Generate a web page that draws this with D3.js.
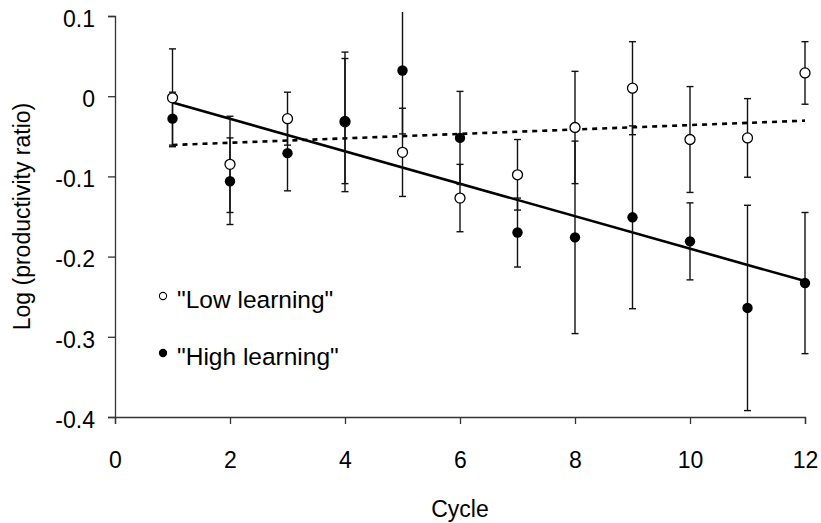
<!DOCTYPE html>
<html>
<head>
<meta charset="utf-8">
<script src="https://cdn.jsdelivr.net/npm/d3@7"></script>
<style>
  body { margin: 0; background: #fff; }
  svg { display: block; font-family: Arial, "Liberation Sans", sans-serif; }
</style>
</head>
<body>
<svg id="chart" width="821" height="523"></svg>
<script>
// values
const cycles = [1, 2, 3, 4, 5, 6, 7, 8, 9, 10, 11, 12];
const lowMean = [-0.002, -0.085, -0.028, -0.032, -0.070, -0.127, -0.098, -0.039, 0.010, -0.054, -0.052, 0.029];
const lowErr = [0.061, 0.060, 0.033, 0.087, 0.055, 0.042, 0.044, 0.070, 0.058, 0.066, 0.049, 0.039];
const highMean = [-0.028, -0.106, -0.071, -0.031, 0.032, -0.052, -0.170, -0.176, -0.151, -0.181, -0.264, -0.233];
const highErr = [0.033, 0.054, 0.047, 0.078, 0.079, 0.058, 0.043, 0.120, 0.114, 0.048, 0.128, 0.088];
const xTicks = [0, 2, 4, 6, 8, 10, 12];
const yTicks = [0.1, 0, -0.1, -0.2, -0.3, -0.4];
const legendLabels = ['"Low learning"', '"High learning"'];

const width = 821, height = 523;
const margin = { top: 16, right: 16, bottom: 106, left: 115 };

const svg = d3.select('#chart');

const x = d3.scaleLinear().domain([0, 12]).range([margin.left, width - margin.right]);
const y = d3.scaleLinear().domain([-0.4, 0.1]).range([height - margin.bottom, margin.top]);

const lowData = cycles.map((c, i) => ({ c, m: lowMean[i], e: lowErr[i] }));
const highData = cycles.map((c, i) => ({ c, m: highMean[i], e: highErr[i] }));

// least squares fit for the trend lines
function fit(data) {
    const mx = d3.mean(data, d => d.c), my = d3.mean(data, d => d.m);
    const slope = d3.sum(data, d => (d.c - mx) * (d.m - my)) / d3.sum(data, d => (d.c - mx) ** 2);
    const a = my - slope * mx;
    const [c0, c1] = d3.extent(data, d => d.c);
    return [[c0, a + slope * c0], [c1, a + slope * c1]];
}

svg.append('defs').append('clipPath').attr('id', 'plotClip')
    .append('rect')
    .attr('x', 0).attr('y', y(0.105))
    .attr('width', width).attr('height', height);

// axes
const fmt = v => v === 0 ? '0' : String(+v.toFixed(1));

const yAxis = svg.append('g')
    .attr('transform', `translate(${margin.left},0)`)
    .call(d3.axisLeft(y).tickValues(yTicks).tickFormat(fmt).tickSizeOuter(0).tickSize(7).tickPadding(13));
yAxis.selectAll('.tick text').attr('dy', '0.45em');

const xAxis = svg.append('g')
    .attr('transform', `translate(0,${height - margin.bottom})`)
    .call(d3.axisBottom(x).tickValues(xTicks).tickFormat(d3.format('d')).tickSizeOuter(0).tickSize(7).tickPadding(28));

[xAxis, yAxis].forEach(g => {
    g.select('.domain').attr('stroke', '#333').attr('stroke-width', 1.3);
    g.selectAll('.tick line').attr('stroke', '#333').attr('stroke-width', 1.3);
    g.selectAll('.tick text').attr('fill', '#000').style('font-size', '23px');
});

svg.append('text')
    .attr('x', x(6))
    .attr('y', 517)
    .attr('text-anchor', 'middle')
    .style('font-size', '23px')
    .text('Cycle');

svg.append('text')
    .attr('transform', `translate(30,${y(-0.15)}) rotate(-90)`)
    .attr('text-anchor', 'middle')
    .style('font-size', '23px')
    .text('Log (productivity ratio)');

// trend lines
const line = d3.line().x(d => x(d[0])).y(d => y(d[1]));

svg.append('path')
    .datum(fit(lowData))
    .attr('d', line)
    .attr('fill', 'none')
    .attr('stroke', '#000')
    .attr('stroke-width', 2.6)
    .attr('stroke-dasharray', '5,5');

svg.append('path')
    .datum(fit(highData))
    .attr('d', line)
    .attr('fill', 'none')
    .attr('stroke', '#000')
    .attr('stroke-width', 2.6);

// error bars
const bars = svg.append('g').attr('clip-path', 'url(#plotClip)');
[lowData, highData].forEach(data => {
    const g = bars.append('g').selectAll('g').data(data).enter().append('g');
    g.append('line')
        .attr('x1', d => x(d.c)).attr('x2', d => x(d.c))
        .attr('y1', d => y(d.m + d.e)).attr('y2', d => y(d.m - d.e))
        .attr('stroke', '#111').attr('stroke-width', 1.4);
    [1, -1].forEach(s => {
        g.append('line')
            .attr('x1', d => x(d.c) - 3.5).attr('x2', d => x(d.c) + 3.5)
            .attr('y1', d => y(d.m + s * d.e)).attr('y2', d => y(d.m + s * d.e))
            .attr('stroke', '#111').attr('stroke-width', 1.4);
    });
});

// markers
svg.append('g').selectAll('circle')
    .data(lowData).enter().append('circle')
    .attr('cx', d => x(d.c)).attr('cy', d => y(d.m))
    .attr('r', 5)
    .attr('fill', '#fff').attr('stroke', '#000').attr('stroke-width', 1.3);

svg.append('g').selectAll('circle')
    .data(highData).enter().append('circle')
    .attr('cx', d => x(d.c)).attr('cy', d => y(d.m))
    .attr('r', 5.2)
    .attr('fill', '#000');

// legend
const legend = svg.append('g').selectAll('g')
    .data(legendLabels).enter().append('g')
    .attr('transform', (d, i) => `translate(163,${296 + i * 57})`);

legend.append('circle')
    .attr('r', 3.6)
    .attr('fill', (d, i) => i === 0 ? '#fff' : '#000')
    .attr('stroke', '#000').attr('stroke-width', 1.1);

legend.append('text')
    .attr('x', 14)
    .attr('y', 12)
    .style('font-size', '24.5px')
    .text(d => d);
</script>
</body>
</html>
